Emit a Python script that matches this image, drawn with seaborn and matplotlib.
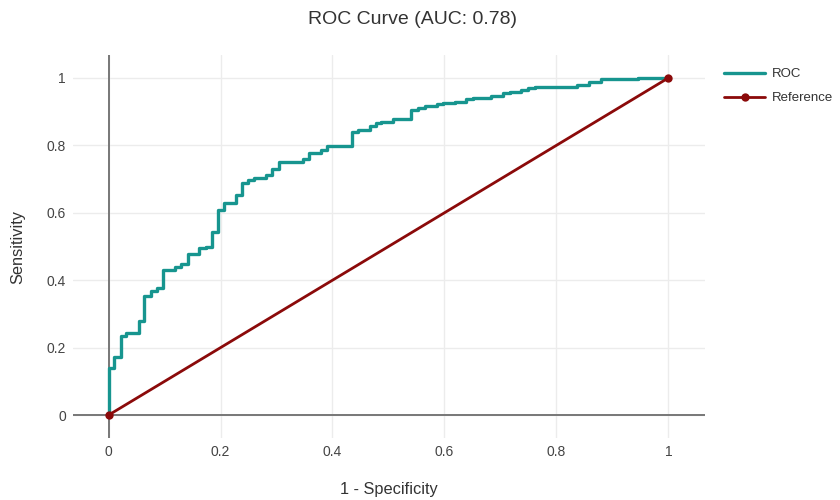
import matplotlib
matplotlib.use("Agg")
import matplotlib.pyplot as plt
from matplotlib.ticker import FuncFormatter
import seaborn as sns

# ── data ─────────────────────────────────────────────────────────────────────
fpr = [0.0, 0.0, 0.0095, 0.022, 0.032, 0.054, 0.064, 0.075, 0.087, 0.0975,
       0.119, 0.129, 0.1416, 0.162, 0.174, 0.184, 0.195, 0.206, 0.227, 0.239,
       0.249, 0.26, 0.282, 0.292, 0.304, 0.348, 0.358, 0.379, 0.39, 0.435,
       0.445, 0.467, 0.477, 0.4875, 0.508, 0.541, 0.553, 0.565, 0.586, 0.598,
       0.618, 0.639, 0.651, 0.684, 0.705, 0.717, 0.7375, 0.749, 0.761, 0.836,
       0.858, 0.88, 0.946, 1.0]
tpr = [0.0, 0.139, 0.171, 0.234, 0.243, 0.28, 0.353, 0.368, 0.377, 0.43,
       0.438, 0.448, 0.479, 0.495, 0.5, 0.544, 0.608, 0.628, 0.653, 0.689,
       0.697, 0.702, 0.712, 0.73, 0.752, 0.759, 0.776, 0.786, 0.799, 0.839,
       0.846, 0.858, 0.866, 0.870, 0.877, 0.905, 0.912, 0.917, 0.922, 0.925,
       0.930, 0.937, 0.941, 0.947, 0.955, 0.958, 0.964, 0.969, 0.972, 0.979,
       0.987, 0.996, 1.0, 1.0]
ref_x = [0.0, 1.0]
ref_y = [0.0, 1.0]
auc = 0.78
ticks = [0, 0.2, 0.4, 0.6, 0.8, 1]

TEAL = "#17958f"
DARKRED = "#8b0a0a"

sns.set_theme(style="white")
plt.rcParams["font.family"] = ["Liberation Sans", "DejaVu Sans"]

fig = plt.figure(figsize=(8.4, 5), dpi=100)
ax = fig.add_axes([0.0866, 0.124, 0.7524, 0.766])

ax.grid(True, color="#ececec", linewidth=1, zorder=0)
ax.axhline(0, color="#777777", linewidth=1.4, zorder=1)
ax.axvline(0, color="#777777", linewidth=1.4, zorder=1)

sns.lineplot(x=fpr, y=tpr, ax=ax, color=TEAL, linewidth=2.4,
             drawstyle="steps-post", sort=False, estimator=None,
             label="ROC", zorder=3)
sns.lineplot(x=ref_x, y=ref_y, ax=ax, color=DARKRED, linewidth=2,
             marker="o", markersize=6, markeredgewidth=0,
             sort=False, estimator=None, label="Reference", zorder=4)

ax.set_xlim(-0.064, 1.065)
ax.set_ylim(-0.068, 1.068)
ax.set_xticks(ticks)
ax.set_yticks(ticks)
fmt = FuncFormatter(lambda v, p: f"{v:g}")
ax.xaxis.set_major_formatter(fmt)
ax.yaxis.set_major_formatter(fmt)
ax.tick_params(length=0, labelsize=10, colors="#444444", pad=5)
for s in ax.spines.values():
    s.set_visible(False)

ax.set_xlabel("1 - Specificity", fontsize=11.8, color="#333333")
ax.set_ylabel("Sensitivity", fontsize=11.8, color="#333333")
ax.xaxis.label.set_va("center")
ax.yaxis.label.set_va("center")
ax.xaxis.set_label_coords(0.5, -0.135)
ax.yaxis.set_label_coords(-0.0865, 0.5)

fig.suptitle(f"ROC Curve (AUC: {auc})", x=0.491, y=0.962, fontsize=14,
             color="#333333", va="center")

ax.legend(loc="upper left", bbox_to_anchor=(0.862, 0.864),
          bbox_transform=fig.transFigure, frameon=False, fontsize=9.5,
          handlelength=3.1, handletextpad=0.5, labelspacing=0.9,
          borderaxespad=0, borderpad=0, labelcolor="#333333")

fig.savefig("out.png", dpi=100)
